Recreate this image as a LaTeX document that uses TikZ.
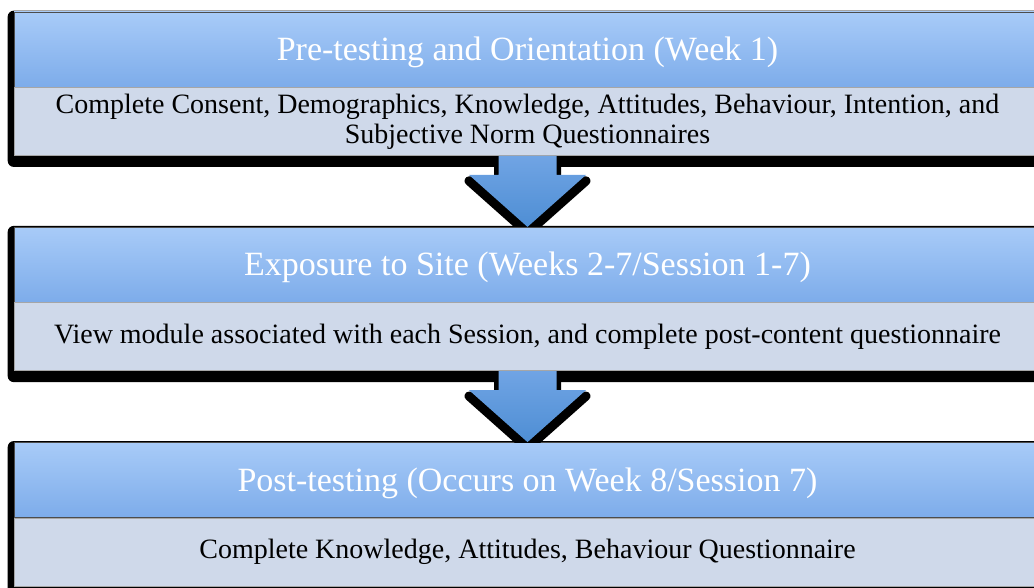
\documentclass[tikz,border=0pt]{standalone}
\usepackage{fontspec}
\setmainfont{Liberation Serif}
\usetikzlibrary{positioning,calc,backgrounds}

\definecolor{headtop}{RGB}{168,203,248}
\definecolor{headbot}{RGB}{125,172,234}
\definecolor{bodyfill}{RGB}{207,217,234}
\definecolor{arrowtop}{RGB}{112,164,228}
\definecolor{arrowbot}{RGB}{78,142,212}

\tikzset{
  header/.style={minimum width=513.5pt, minimum height=37.5pt, inner sep=0pt,
    top color=headtop, bottom color=headbot, draw=black!70, line width=0.3pt,
    text=white, text depth=0.6pt, font=\fontsize{17}{20}\selectfont},
  bodybox/.style={minimum width=513.5pt, minimum height=34pt, inner sep=0pt,
    fill=bodyfill, draw=black!35, line width=0.3pt, align=center,
    font=\fontsize{14}{15}\selectfont},
  blockshadow/.style={fill=black, rounded corners=3pt},
  flowarrow/.style={top color=arrowtop, bottom color=arrowbot},
  arrowshadow/.style={fill=black, draw=black, line width=4.5pt, line join=round,
    transform canvas={yshift=-3pt}}
}

% block arrow from the bottom of one box to the top of the next
\newcommand{\downarrowpath}[2]{($(#1.south)+(-29,0)$) -- ($(#1.south)+(-29,19)$)
  -- ($(#1.south)+(-58.5,19)$) -- (#2.north) -- ($(#1.south)+(58.5,19)$)
  -- ($(#1.south)+(29,19)$) -- ($(#1.south)+(29,0)$) -- cycle}

\begin{document}
\begin{tikzpicture}[x=0.5pt,y=-0.5pt]
  \useasboundingbox (0,0) rectangle (1034,588);

  \node[header] (head1) at (527.5,49.5) {Pre-testing and Orientation (Week 1)};
  \node[bodybox, below=0pt of head1] (body1) {Complete Consent, Demographics, Knowledge, Attitudes, Behaviour, Intention, and\\Subjective Norm Questionnaires};

  \node[header, below=35.5pt of body1] (head2) {Exposure to Site (Weeks 2-7/Session 1-7)};
  \node[bodybox, below=0pt of head2] (body2) {View module associated with each Session, and complete post-content questionnaire};

  \node[header, below=35.5pt of body2] (head3) {Post-testing (Occurs on Week 8/Session 7)};
  \node[bodybox, below=0pt of head3] (body3) {Complete Knowledge, Attitudes, Behaviour Questionnaire};

  \begin{scope}[on background layer]
    \foreach \n in {1,2,3}
      \fill[blockshadow] ($(head\n.north west)+(-6,-1)$) rectangle ($(body\n.south east)+(6,11)$);
  \end{scope}

  \foreach \a/\b in {body1/head2,body2/head3}{
    \begin{scope}
      \clip (\a.south west) rectangle (\b.north east);
      \path[arrowshadow] \downarrowpath{\a}{\b};
      \path[flowarrow] \downarrowpath{\a}{\b};
    \end{scope}
  }
\end{tikzpicture}
\end{document}
